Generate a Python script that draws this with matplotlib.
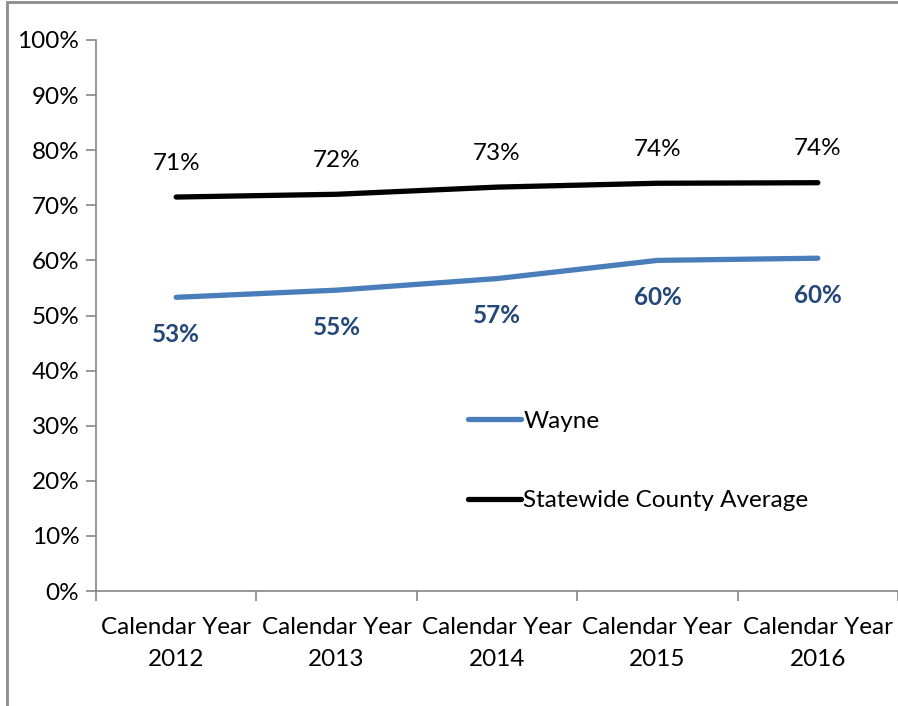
import numpy as np
import matplotlib.pyplot as plt
from matplotlib.patches import Rectangle

plt.rcParams['font.family'] = ['Lato', 'DejaVu Sans']

years = ['2012', '2013', '2014', '2015', '2016']
wayne = [53.3, 54.6, 56.7, 60.0, 60.4]
statewide = [71.5, 72.0, 73.3, 74.0, 74.1]
wayne_labels = ['53%', '55%', '57%', '60%', '60%']
state_labels = ['71%', '72%', '73%', '74%', '74%']

fs = 17.5

fig = plt.figure(figsize=(8.98, 7.06), dpi=100)
ax = fig.add_axes([96/898, 1 - 591/706, 802/898, 551/706])

x = np.arange(len(years)) + 0.5
ax.plot(x, wayne, color='#4A7EBB', lw=3.8, solid_capstyle='round', label='Wayne')
ax.plot(x, statewide, color='black', lw=3.8, solid_capstyle='round', label='Statewide County Average')

# data labels
for xi, v, s in zip(x, wayne, wayne_labels):
    ax.annotate(s, (xi, v), xytext=(0, -37), textcoords='offset pixels',
                ha='center', va='center', fontsize=fs, fontweight='bold', color='#24477A')
for xi, v, s in zip(x, statewide, state_labels):
    ax.annotate(s, (xi, v), xytext=(0, 34), textcoords='offset pixels',
                ha='center', va='center', fontsize=fs, color='black')

ax.set_xlim(0, 5)
ax.set_ylim(0, 100)
ax.set_yticks(np.arange(0, 101, 10))
ax.set_yticklabels([f'{v}%' for v in range(0, 101, 10)], fontsize=fs)
ax.set_xticks(np.arange(0, 6))
ax.set_xticklabels([])
ax.set_xticks(x, minor=True)
ax.set_xticklabels(['Calendar Year\n' + y for y in years], minor=True, fontsize=fs, linespacing=1.6)
ax.tick_params(axis='x', which='minor', length=0, pad=19)
ax.tick_params(axis='x', which='major', length=7, color='#868686', width=1.2)
ax.tick_params(axis='y', length=7, color='#868686', width=1.2, pad=5)

for side in ['top', 'right']:
    ax.spines[side].set_visible(False)
for side in ['left', 'bottom']:
    ax.spines[side].set_color('#868686')
    ax.spines[side].set_linewidth(1.2)

leg = ax.legend(loc='upper left', bbox_to_anchor=(0.436, 0.367), frameon=False, fontsize=fs,
                handlelength=2.2, handletextpad=0.1, labelspacing=2.4)

# outer frame of the chart area
fig.patches.append(Rectangle((7/898, -0.1), 1.2, 1 - 2/706 + 0.1, transform=fig.transFigure,
                             fill=False, edgecolor='#8C8C8C', lw=2))

fig.savefig('out.png', dpi=100)
